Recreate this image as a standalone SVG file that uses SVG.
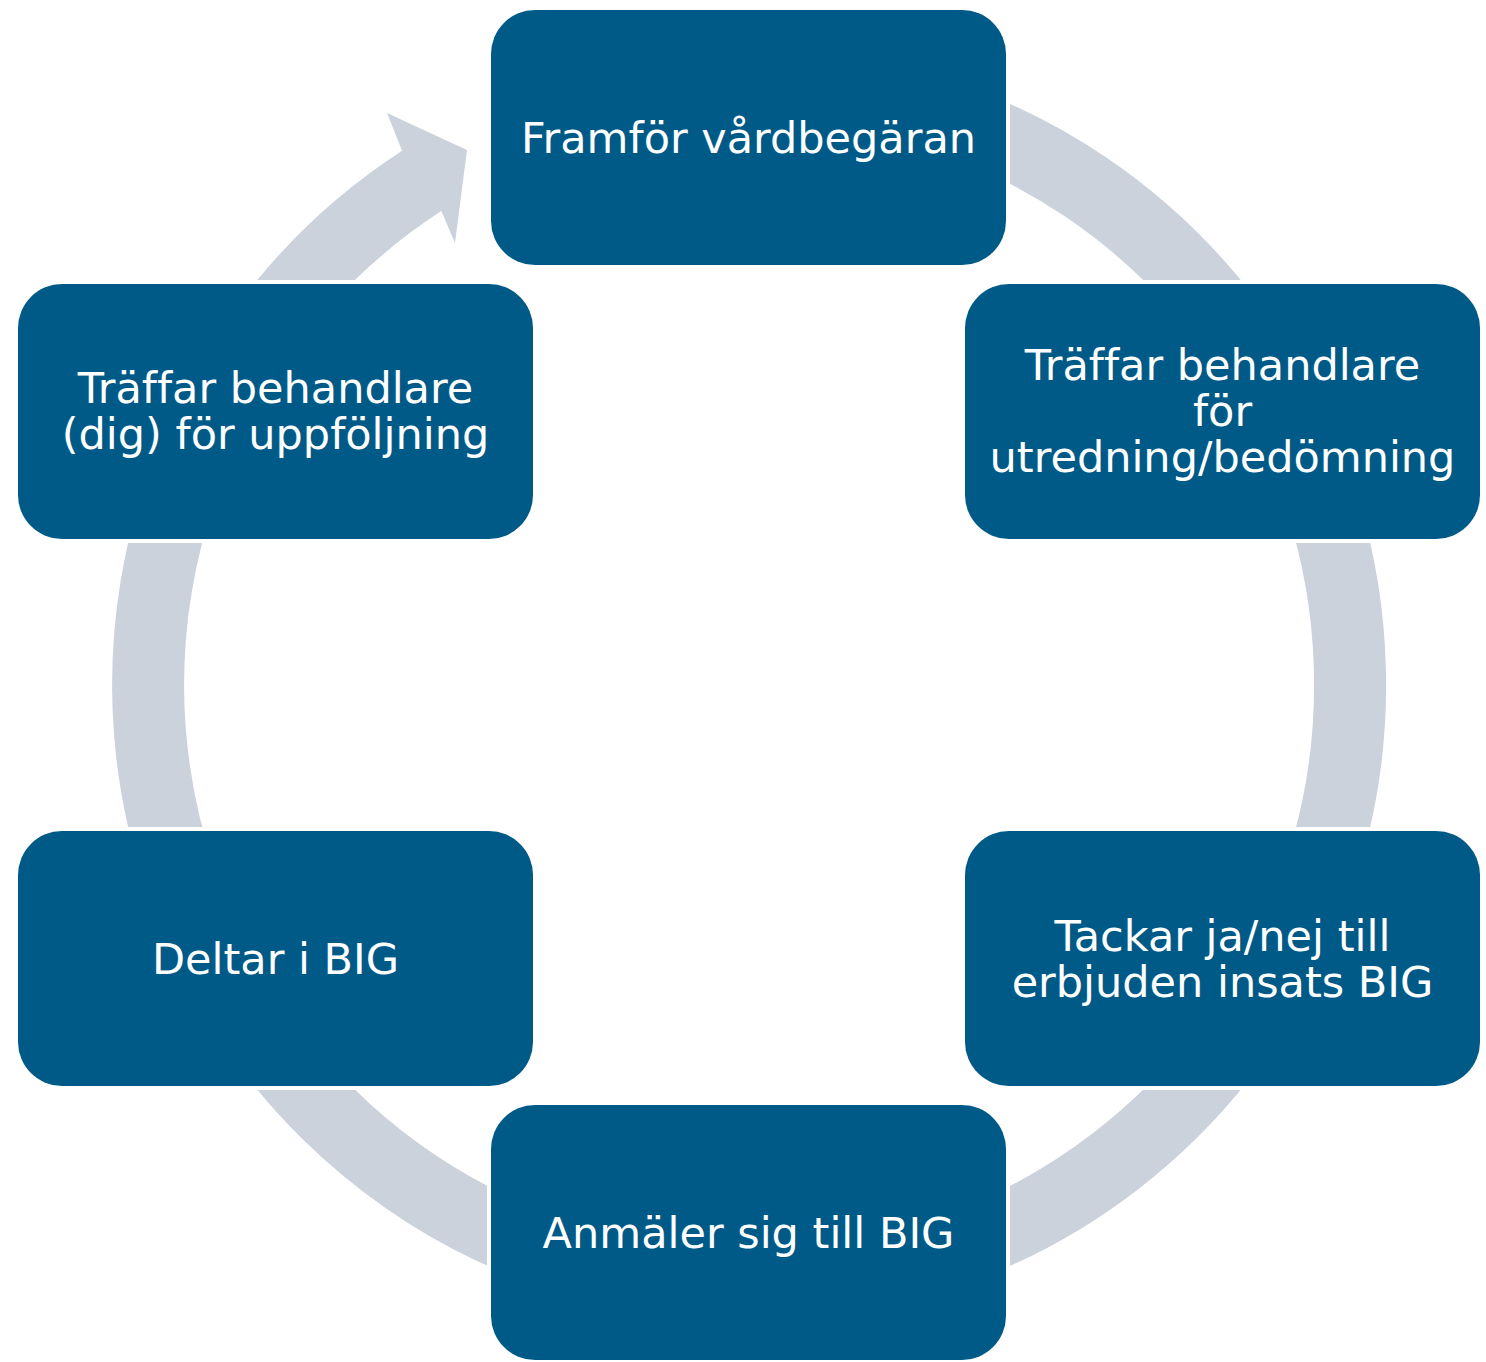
<svg xmlns="http://www.w3.org/2000/svg" width="1486" height="1362" viewBox="0 0 1486 1362">
<style>
.ring{fill:none;stroke:#CBD2DB;stroke-width:72}
.arrow{fill:#CBD2DB}
.node rect{fill:#005A88;stroke:#FFFFFF;stroke-width:8;paint-order:stroke}
.node text{fill:#FFFFFF;font-family:"DejaVu Sans",Verdana,sans-serif;font-size:43px;text-anchor:middle;font-variant-ligatures:none}
</style>
<rect width="1486" height="1362" fill="#FFFFFF"/>
<g id="connectors">
<path class="ring" d="M 543.4 120.2 A 601 601 0 1 1 256.7 340.3"/>
<path class="arrow" d="M 227.2 319.6 A 637 637 0 0 1 402.1 150.8 L 387 113 L 467 150 L 455 243 L 441.3 211.1 A 565 565 0 0 0 286.2 360.9 Z"/>
</g>
<g id="node1" class="node">
<rect x="491" y="10" width="515" height="255" rx="44"/>
<text x="748.5" y="153">Framför vårdbegäran</text>
</g>
<g id="node2" class="node">
<rect x="965" y="284" width="515" height="255" rx="44"/>
<text x="1222.5" y="380">Träffar behandlare</text>
<text x="1222.5" y="426">för</text>
<text x="1222.5" y="472">utredning/bedömning</text>
</g>
<g id="node3" class="node">
<rect x="965" y="831" width="515" height="255" rx="44"/>
<text x="1222.5" y="951">Tackar ja/nej till</text>
<text x="1222.5" y="997">erbjuden insats BIG</text>
</g>
<g id="node4" class="node">
<rect x="491" y="1105" width="515" height="255" rx="44"/>
<text x="748.5" y="1248">Anmäler sig till BIG</text>
</g>
<g id="node5" class="node">
<rect x="18" y="831" width="515" height="255" rx="44"/>
<text x="275.5" y="974">Deltar i BIG</text>
</g>
<g id="node6" class="node">
<rect x="18" y="284" width="515" height="255" rx="44"/>
<text x="275.5" y="403">Träffar behandlare</text>
<text x="275.5" y="449">(dig) för uppföljning</text>
</g>
</svg>
